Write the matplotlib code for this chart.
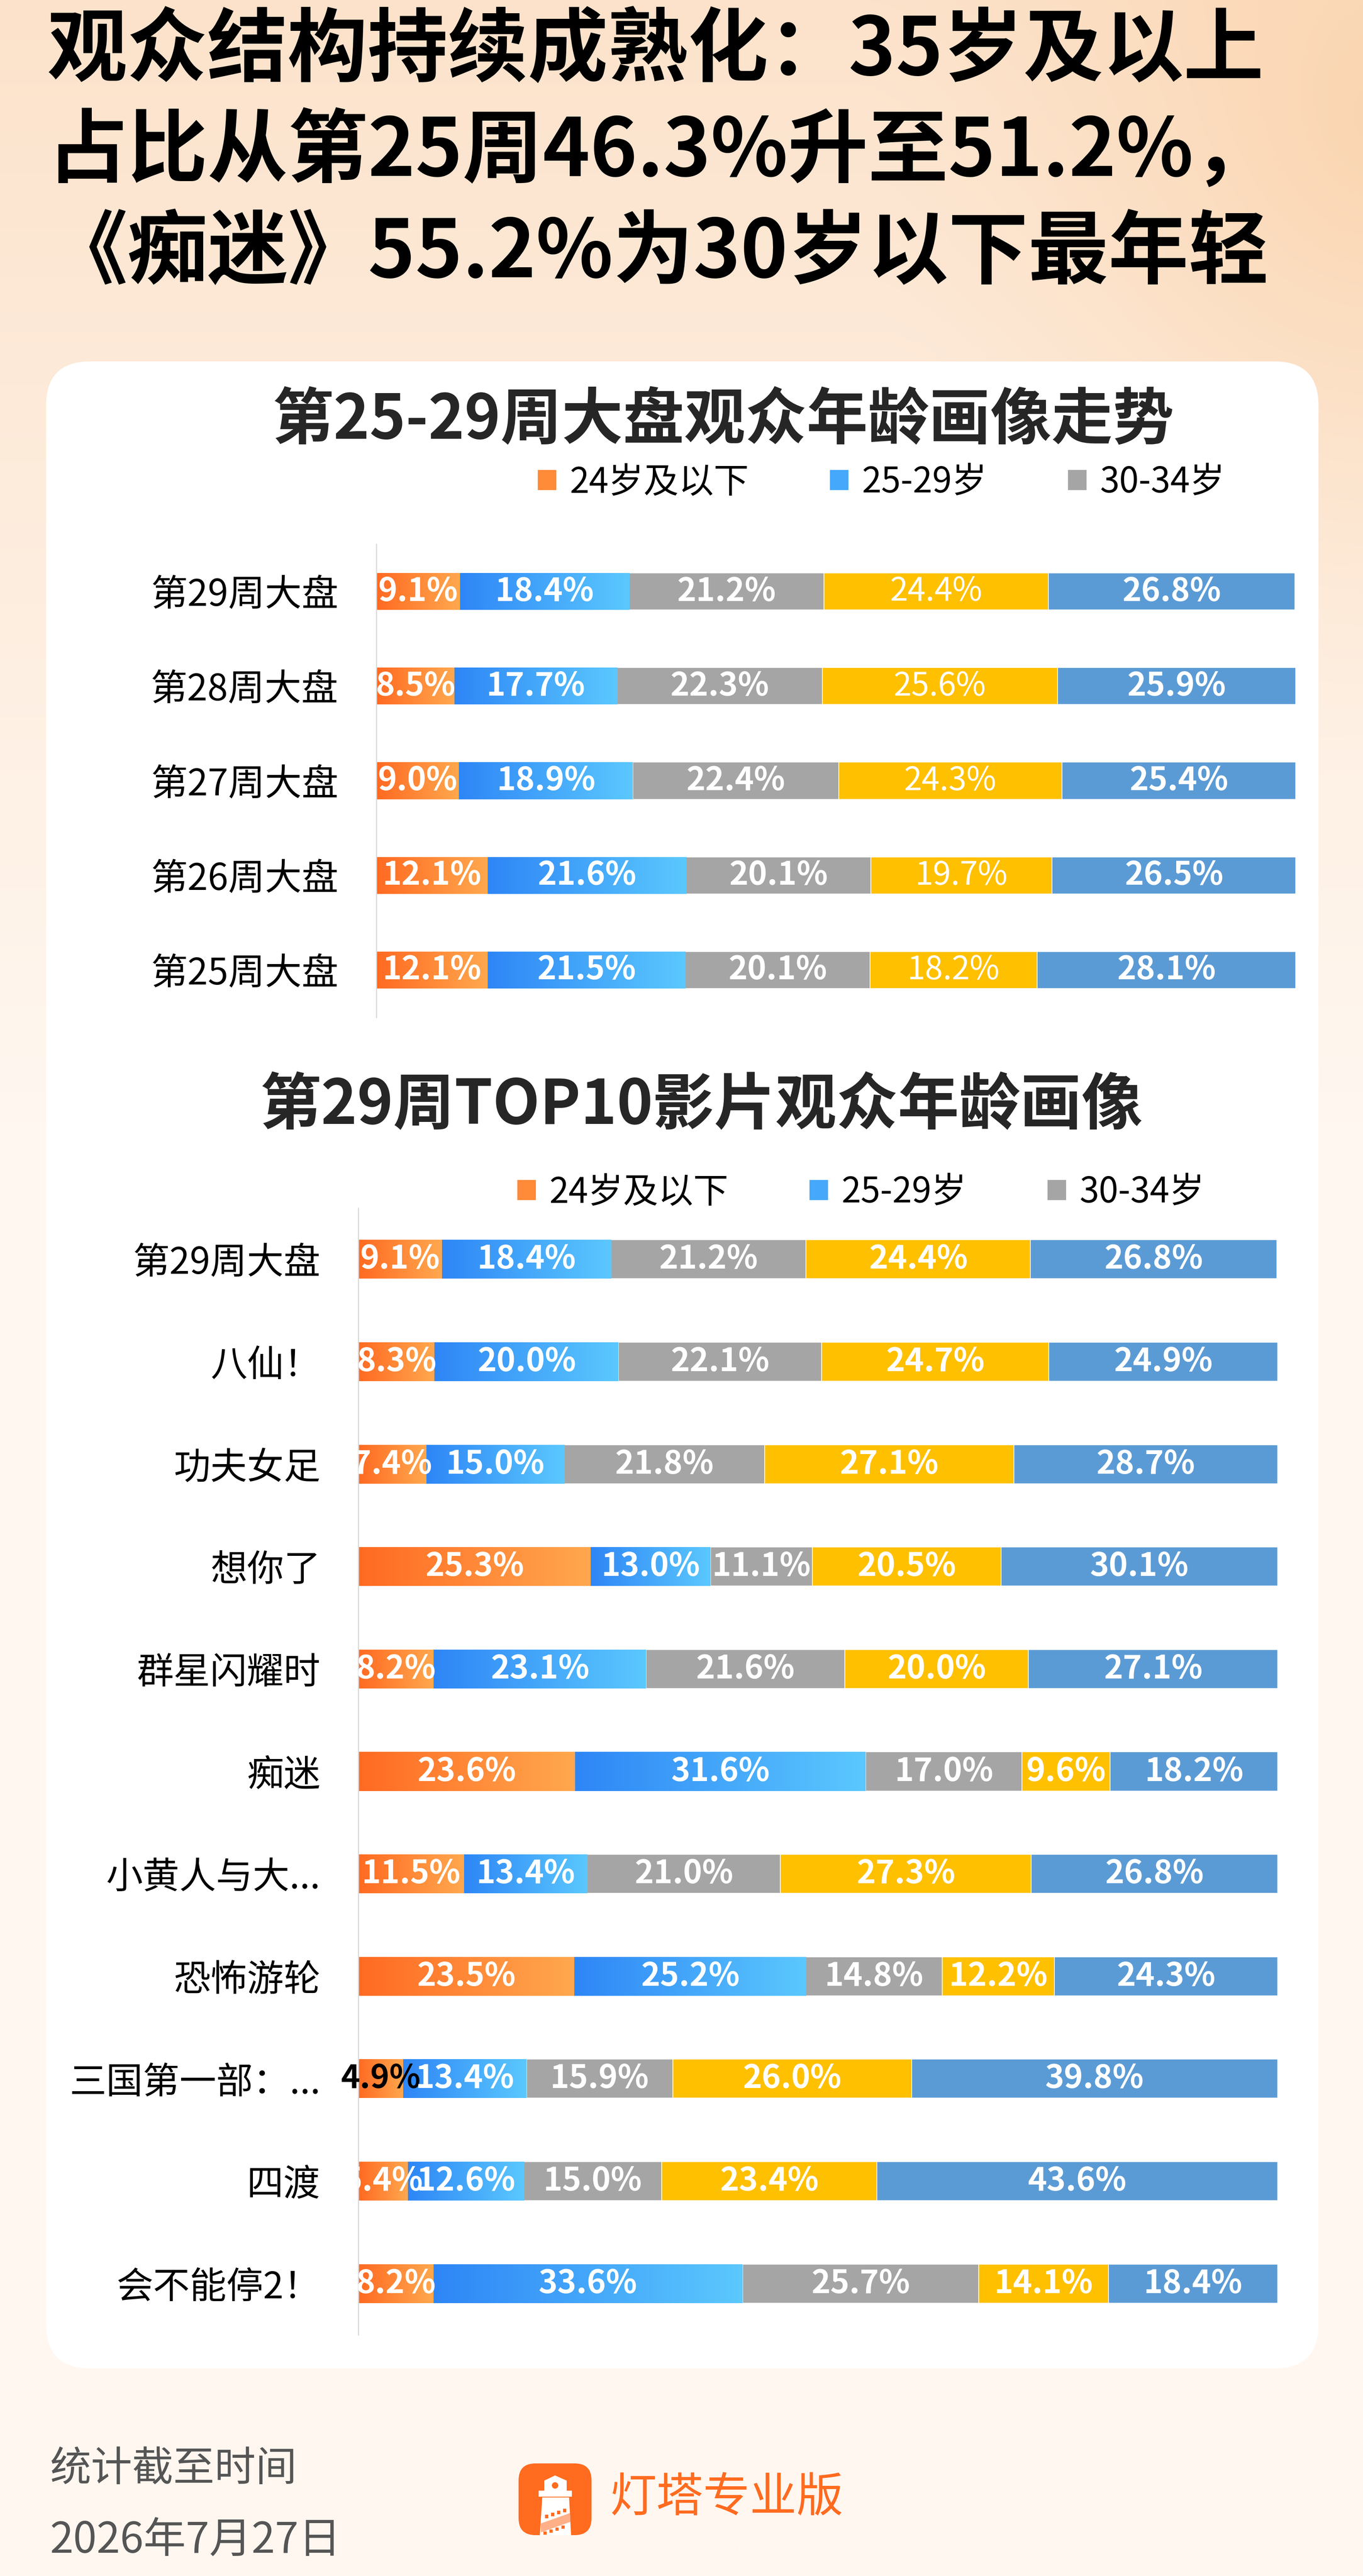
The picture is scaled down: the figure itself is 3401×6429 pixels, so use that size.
import numpy as np
import matplotlib
matplotlib.use('Agg')
import matplotlib.pyplot as plt
from matplotlib.colors import LinearSegmentedColormap
from matplotlib.patches import FancyBboxPatch, Polygon, Rectangle, Circle

plt.rcParams['font.family'] = ['Noto Sans CJK SC', 'DejaVu Sans']

W, H = 3401, 6429

# ---- data ----
age_groups = ['24岁及以下', '25-29岁', '30-34岁', '35-39岁', '40岁及以上']

week_labels = ['第29周大盘', '第28周大盘', '第27周大盘', '第26周大盘', '第25周大盘']
week_u24 = [9.1, 8.5, 9.0, 12.1, 12.1]
week_25_29 = [18.4, 17.7, 18.9, 21.6, 21.5]
week_30_34 = [21.2, 22.3, 22.4, 20.1, 20.1]
week_35_39 = [24.4, 25.6, 24.3, 19.7, 18.2]
week_40p = [26.8, 25.9, 25.4, 26.5, 28.1]

film_labels = ['第29周大盘', '八仙！', '功夫女足', '想你了', '群星闪耀时', '痴迷',
               '小黄人与大...', '恐怖游轮', '三国第一部：...', '四渡', '会不能停2！']
film_u24 = [9.1, 8.3, 7.4, 25.3, 8.2, 23.6, 11.5, 23.5, 4.9, 5.4, 8.2]
film_25_29 = [18.4, 20.0, 15.0, 13.0, 23.1, 31.6, 13.4, 25.2, 13.4, 12.6, 33.6]
film_30_34 = [21.2, 22.1, 21.8, 11.1, 21.6, 17.0, 21.0, 14.8, 15.9, 15.0, 25.7]
film_35_39 = [24.4, 24.7, 27.1, 20.5, 20.0, 9.6, 27.3, 12.2, 26.0, 23.4, 14.1]
film_40p = [26.8, 24.9, 28.7, 30.1, 27.1, 18.2, 26.8, 24.3, 39.8, 43.6, 18.4]

# ---- styles ----
solid = ['#FF8A38', '#45A8FA', '#A5A5A5', '#FFC000', '#5B9BD5']
grads = [LinearSegmentedColormap.from_list('og', ['#FF6A22', '#FFA84E']),
         LinearSegmentedColormap.from_list('bg', ['#2E86F6', '#5BC8FE']),
         None, None, None]
ramp = np.linspace(0, 1, 256).reshape(1, -1)

fig = plt.figure(figsize=(W / 100, H / 100), dpi=100)

# background in pixel coordinates
bg = fig.add_axes([0, 0, 1, 1])
bg.set_xlim(0, W)
bg.set_ylim(H, 0)
bg.axis('off')
yy, xx = np.mgrid[0:H:10, 0:W:10].astype(float)
top = np.array([252, 226, 202]) / 255
bottom = np.array([255, 247, 240]) / 255
t = np.clip(yy / 2800, 0, 1)[..., None] ** 0.9
img = top * (1 - t) + bottom * t
d = np.hypot(xx - 3450, (yy - 300) * 0.8) / 1300
wt = (np.clip(1 - d, 0, 1) ** 1.4 * 0.7)[..., None]
img = img * (1 - wt) + np.array([250, 206, 162]) / 255 * wt
bg.imshow(img, extent=[0, W, H, 0], aspect='auto', interpolation='bilinear', zorder=0)

bg.add_patch(FancyBboxPatch((115, 902), 3175, 5009,
                            boxstyle='round,pad=0,rounding_size=110',
                            facecolor='white', edgecolor='none', zorder=1))

title_lines = ['观众结构持续成熟化：35岁及以上',
               '占比从第25周46.3%升至51.2%，',
               '《痴迷》55.2%为30岁以下最年轻']
for i, line in enumerate(title_lines):
    bg.text(118, 128 + i * 253, line, fontsize=144, fontweight='black',
            color='black', ha='left', va='center', zorder=3)

bg.text(1805, 1050, '第25-29周大盘观众年龄画像走势', fontsize=110,
        fontweight='bold', color='#262626', ha='center', va='center', zorder=3)
bg.text(1750, 2760, '第29周TOP10影片观众年龄画像', fontsize=110,
        fontweight='bold', color='#262626', ha='center', va='center', zorder=3)

# footer
bg.text(125, 6162, '统计截至时间', fontsize=74, color='#555555', ha='left', va='center')
bg.text(125, 6340, '2026年7月27日', fontsize=76, color='#555555', ha='left', va='center')
bg.text(1522, 6235, '灯塔专业版', fontsize=84, color='#FF6B1F', ha='left', va='center')

# logo icon
lx, ly = 1294, 6148
bg.add_patch(FancyBboxPatch((lx, ly), 182, 179, boxstyle='round,pad=0,rounding_size=42',
                            facecolor='#FF6B1F', edgecolor='none', zorder=2))
bg.add_patch(Polygon([[lx + 91, ly + 30], [lx + 64, ly + 43], [lx + 64, ly + 68],
                      [lx + 120, ly + 68], [lx + 120, ly + 43]],
                     closed=True, facecolor='white', edgecolor='none', zorder=3))
bg.add_patch(Rectangle((lx + 50, ly + 68), 83, 15, facecolor='white', edgecolor='none', zorder=3))
bg.add_patch(Polygon([[lx + 59, ly + 85], [lx + 126, ly + 85], [lx + 131, ly + 179],
                      [lx + 53, ly + 179]],
                     closed=True, facecolor='white', edgecolor='none', zorder=3))
bg.add_patch(Circle((lx + 91, ly + 55), 8, facecolor='#FF6B1F', edgecolor='none', zorder=4))
bg.add_patch(Polygon([[lx + 55, ly + 150], [lx + 128, ly + 124], [lx + 129, ly + 146],
                      [lx + 56, ly + 172]],
                     closed=True, facecolor='#FFB089', edgecolor='none', zorder=4))
for j in range(4):
    bg.add_patch(Rectangle((lx + 66 + j * 15, ly + 128 - j * 5), 8, 9,
                           facecolor='#FF6B1F', edgecolor='none', zorder=4))
    bg.add_patch(Rectangle((lx + 62 + j * 15, ly + 170 - j * 5), 8, 8,
                           facecolor='#FF6B1F', edgecolor='none', zorder=4))


def px_axes(x0, y0, x1, y1):
    return fig.add_axes([x0 / W, 1 - y1 / H, (x1 - x0) / W, (y1 - y0) / H], zorder=5)


def stacked(ax, cats, series, normal_cols=(), specials=None, bar_h=0.39):
    specials = specials or {}
    y = np.arange(len(cats))
    left = np.zeros(len(cats))
    conts = []
    for k, vals in enumerate(series):
        vals = np.asarray(vals, dtype=float)
        c = ax.barh(y, vals, left=left, height=bar_h, color=solid[k],
                    edgecolor='white', linewidth=1.2, zorder=2)
        conts.append(c)
        if grads[k] is not None:
            for p in c.patches:
                x0, y0 = p.get_x(), p.get_y()
                im = ax.imshow(ramp, cmap=grads[k], aspect='auto', interpolation='bilinear',
                               extent=[x0, x0 + p.get_width(), y0, y0 + p.get_height()],
                               zorder=2.5)
                im.set_clip_path(p)
        for i, v in enumerate(vals):
            color, clip = specials.get((i, k), ('white', True))
            ax.text(left[i] + v / 2, i, f'{v:.1f}%', ha='center', va='center',
                    fontsize=58, color=color, clip_on=clip, zorder=4,
                    fontweight='normal' if k in normal_cols else 'bold')
        left += vals
    ax.set_xlim(0, 100)
    ax.set_ylim(len(cats) - 0.5, -0.5)
    ax.set_yticks(y, cats)
    ax.set_xticks([])
    ax.tick_params(axis='y', length=0, pad=68, labelsize=66, labelcolor='black')
    for s in ['top', 'right', 'bottom']:
        ax.spines[s].set_visible(False)
    ax.spines['left'].set_color('#D9D9D9')
    ax.spines['left'].set_linewidth(2)
    ax.set_facecolor('none')
    return conts


def add_legend(ax, conts, x_px, y_px):
    ax.legend(conts[:3], age_groups[:3], loc='center left',
              bbox_to_anchor=(x_px / W, 1 - y_px / H), bbox_transform=fig.transFigure,
              ncol=3, frameon=False, fontsize=63, borderpad=0, borderaxespad=0,
              handlelength=0.55, handleheight=0.53, handletextpad=0.37,
              columnspacing=2.3)


ax1 = px_axes(939, 1358, 3233, 2539)
c1 = stacked(ax1, week_labels, [week_u24, week_25_29, week_30_34, week_35_39, week_40p],
             normal_cols=(3,), bar_h=0.39)
add_legend(ax1, c1, 1341, 1204)

ax2 = px_axes(894, 3015, 3188, 5827)
c2 = stacked(ax2, film_labels, [film_u24, film_25_29, film_30_34, film_35_39, film_40p],
             specials={(8, 0): ('black', False)}, bar_h=0.38)
add_legend(ax2, c2, 1290, 2976)

fig.savefig('out.png', dpi=100)
